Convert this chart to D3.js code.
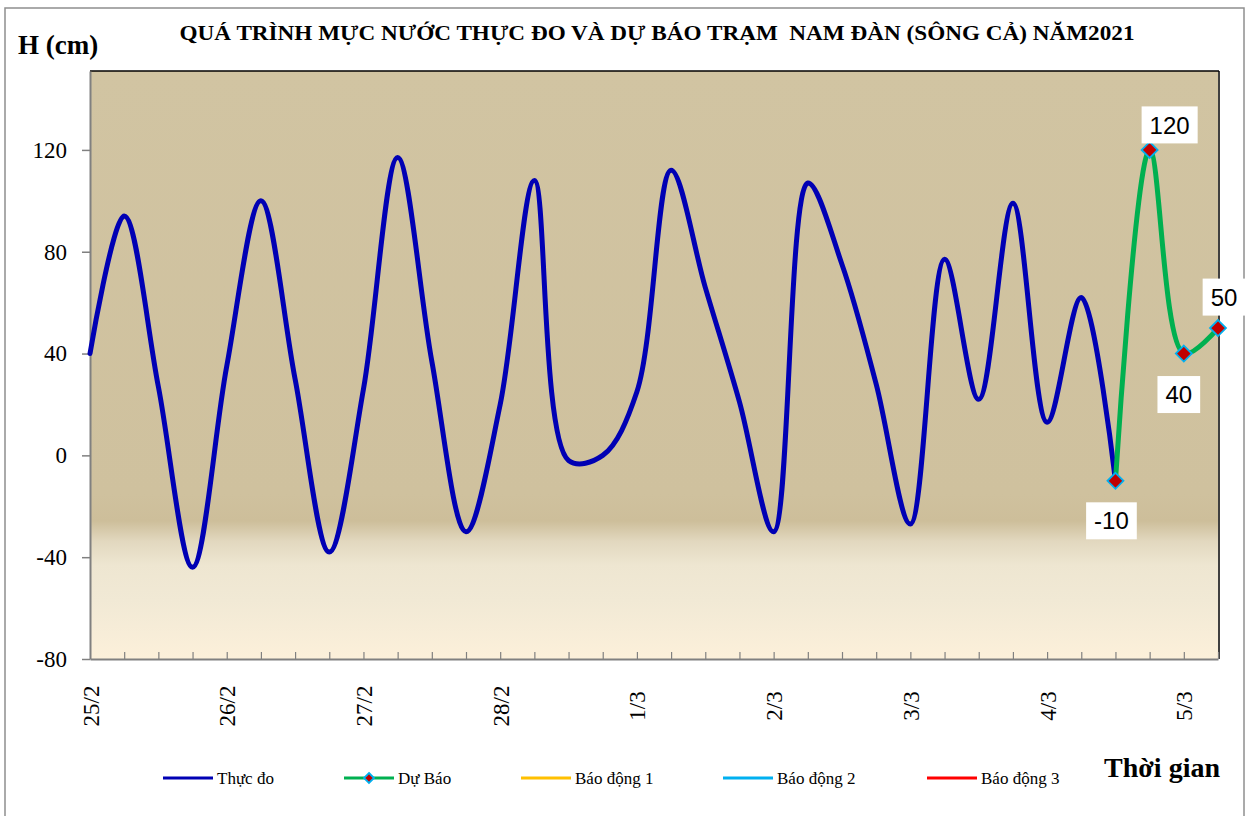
<!DOCTYPE html>
<html>
<head>
<meta charset="utf-8">
<script src="https://cdn.jsdelivr.net/npm/d3@7"></script>
<style>
  html, body { margin: 0; padding: 0; background: #ffffff; }
  svg { display: block; }
  .serif { font-family: "Liberation Serif", "Times New Roman", serif; }
</style>
</head>
<body>
<svg id="chart" width="1253" height="816"></svg>
<script>
// ---------------- DATA ----------------
const categories = [
  '25/2 00h','25/2 06h','25/2 12h','25/2 18h',
  '26/2 00h','26/2 06h','26/2 12h','26/2 18h',
  '27/2 00h','27/2 06h','27/2 12h','27/2 18h',
  '28/2 00h','28/2 06h','28/2 12h','28/2 18h',
  '1/3 00h','1/3 06h','1/3 12h','1/3 18h',
  '2/3 00h','2/3 06h','2/3 12h','2/3 18h',
  '3/3 00h','3/3 06h','3/3 12h','3/3 18h',
  '4/3 00h','4/3 06h','4/3 12h','4/3 18h',
  '5/3 00h','5/3 06h'
];
const dayLabels = ['25/2','26/2','27/2','28/2','1/3','2/3','3/3','4/3','5/3'];
const dayCategories = ['25/2 00h','26/2 00h','27/2 00h','28/2 00h','1/3 00h','2/3 00h','3/3 00h','4/3 00h','5/3 00h'];

// Thực đo (observed), 6-hourly
const thucDo = [40,94,27,-44,35,100,30,-38,26,117,37,-30,20,108,-2,0,25,112,66,21,-30,107,75,28,-27,77,22,99,13,62,-10];
// Dự báo (forecast)
const duBaoCategories = ['4/3 12h','4/3 18h','5/3 00h','5/3 06h'];
const duBao = [-10,120,40,50];

const yTicks = [-80,-40,0,40,80,120];
const yDomain = [-80,151];

const legendNames = ['Thực đo','Dự Báo','Báo động 1','Báo động 2','Báo động 3'];
const legendColors = ['#0000B4','#00B050','#FFC000','#00B0F0','#FF0000'];

const titleText = 'QUÁ TRÌNH MỰC NƯỚC THỰC ĐO VÀ DỰ BÁO TRẠM  NAM ĐÀN (SÔNG CẢ) NĂM2021';

// ---------------- LAYOUT ----------------
const SERIF = '"Liberation Serif", "Times New Roman", serif';
const SANS = '"Liberation Sans", Arial, sans-serif';
const svg = d3.select('#chart');
const plot = {left: 90, right: 1218, top: 71, bottom: 659};

// chart frame
svg.append('rect')
  .attr('x', 5).attr('y', 8).attr('width', 1239).attr('height', 820)
  .attr('fill', '#ffffff').attr('stroke', '#8f8f8f').attr('stroke-width', 1.5);

const defs = svg.append('defs');
const grad = defs.append('linearGradient')
  .attr('id', 'bgGrad')
  .attr('gradientUnits', 'userSpaceOnUse')
  .attr('x1', 0).attr('x2', 0).attr('y1', plot.top).attr('y2', plot.bottom);
[
  [0, '#D1C4A2'],
  [0.72, '#CFC19E'],
  [0.765, '#CDBE9A'],
  [0.80, '#E2D8BF'],
  [0.84, '#EEE6D1'],
  [0.90, '#F1E9D5'],
  [1, '#FCF0DA']
].forEach(([o, c]) => grad.append('stop').attr('offset', o).attr('stop-color', c));

svg.append('rect')
  .attr('x', plot.left).attr('y', plot.top)
  .attr('width', plot.right - plot.left).attr('height', plot.bottom - plot.top)
  .attr('fill', 'url(#bgGrad)');

// scales
const x = d3.scalePoint().domain(categories).range([plot.left, plot.right]).padding(0);
const y = d3.scaleLinear().domain(yDomain).range([plot.bottom, plot.top]);

// plot border (top & right black)
svg.append('line').attr('x1', plot.left).attr('x2', plot.right + 1)
  .attr('y1', plot.top).attr('y2', plot.top).attr('stroke', '#000').attr('stroke-width', 1.5);
svg.append('line').attr('x1', plot.right + 1).attr('x2', plot.right + 1)
  .attr('y1', plot.top).attr('y2', plot.bottom).attr('stroke', '#000').attr('stroke-width', 1.5);

// Y axis
const yAxis = svg.append('g')
  .attr('transform', `translate(${plot.left},0)`)
  .call(d3.axisLeft(y).tickValues(yTicks).tickSize(8).tickSizeOuter(0).tickPadding(15)
    .tickFormat(d => String(d)));
yAxis.attr('font-family', null).attr('font-size', null);
yAxis.select('.domain').attr('stroke', '#808080').attr('stroke-width', 2);
yAxis.selectAll('.tick line').attr('stroke', '#808080').attr('stroke-width', 1.5);
yAxis.selectAll('.tick text')
  .style('font-family', SERIF)
  .style('font-size', '23px').attr('fill', '#000');

// X axis (tick marks inside)
const xAxis = svg.append('g')
  .attr('transform', `translate(0,${plot.bottom})`)
  .call(d3.axisBottom(x).tickValues(categories.slice(1)).tickSize(-7).tickSizeOuter(0).tickFormat(''));
xAxis.select('.domain').attr('stroke', '#808080').attr('stroke-width', 2);
xAxis.selectAll('.tick line').attr('stroke', '#808080').attr('stroke-width', 1.2);

// X day labels (rotated)
const dayMap = new Map(dayCategories.map((c, i) => [c, dayLabels[i]]));
const xLab = svg.append('g')
  .attr('transform', `translate(0,${plot.bottom})`)
  .call(d3.axisBottom(x).tickValues(dayCategories).tickSize(0).tickFormat(d => dayMap.get(d)));
xLab.attr('font-family', null).attr('font-size', null);
xLab.select('.domain').remove();
xLab.selectAll('.tick text')
  .style('font-family', SERIF)
  .style('font-size', '23px').attr('fill', '#000')
  .attr('text-anchor', 'middle')
  .attr('transform', 'translate(0,47) rotate(-90)')
  .attr('x', 0).attr('y', 0).attr('dy', '0.35em');

// lines
const line = d3.line()
  .x(d => x(d.c)).y(d => y(d.v))
  .curve(d3.curveCatmullRom.alpha(0.5));

const obs = thucDo.map((v, i) => ({c: categories[i], v}));
const fc = duBao.map((v, i) => ({c: duBaoCategories[i], v}));

svg.append('path').datum(obs).attr('d', line)
  .attr('fill', 'none').attr('stroke', legendColors[0]).attr('stroke-width', 5)
  .attr('stroke-linejoin', 'round').attr('stroke-linecap', 'round');

svg.append('path').datum(fc).attr('d', line)
  .attr('fill', 'none').attr('stroke', legendColors[1]).attr('stroke-width', 5)
  .attr('stroke-linejoin', 'round').attr('stroke-linecap', 'round');

// markers
function drawDiamond(g, cx, cy, s) {
  g.append('path')
    .attr('d', `M${cx},${cy - s}L${cx + s},${cy}L${cx},${cy + s}L${cx - s},${cy}Z`)
    .attr('fill', '#C00000').attr('stroke', '#00B0F0').attr('stroke-width', 1.8);
}
const mk = svg.append('g');
fc.forEach(d => drawDiamond(mk, x(d.c), y(d.v), 8));

// data labels
const labelOffsets = [[-4, 40], [20, -25], [-5, 41], [6, -31]];
const lbl = svg.append('g');
fc.forEach((d, i) => {
  const cx = x(d.c) + labelOffsets[i][0];
  const cy = y(d.v) + labelOffsets[i][1];
  const g = lbl.append('g');
  const t = g.append('text')
    .attr('x', cx).attr('y', cy).attr('dy', '0.36em')
    .attr('text-anchor', 'middle')
    .style('font-family', SANS)
    .style('font-size', '24px').attr('fill', '#000')
    .text(String(d.v));
  const bb = t.node().getBBox();
  g.insert('rect', 'text')
    .attr('x', bb.x - 8).attr('y', cy - 18.5)
    .attr('width', bb.width + 16).attr('height', 37)
    .attr('fill', '#ffffff');
});

// title
svg.append('text')
  .attr('x', 657).attr('y', 40).attr('text-anchor', 'middle')
  .style('font-family', SERIF).style('white-space', 'pre')
  .attr('xml:space', 'preserve')
  .attr('font-weight', 'bold').style('font-size', '21px')
  .attr('textLength', 955).attr('lengthAdjust', 'spacingAndGlyphs')
  .text(titleText);

// axis titles
svg.append('text')
  .attr('x', 18).attr('y', 54)
  .style('font-family', SERIF)
  .attr('font-weight', 'bold').style('font-size', '27px')
  .text('H (cm)');

svg.append('text')
  .attr('x', 1220).attr('y', 777).attr('text-anchor', 'end')
  .style('font-family', SERIF)
  .attr('font-weight', 'bold').style('font-size', '28px')
  .text('Thời gian');

// legend
const legendX = [163, 344, 521, 723, 927];
const legendY = 778;
const leg = svg.append('g');
legendNames.forEach((name, i) => {
  const x0 = legendX[i];
  leg.append('line')
    .attr('x1', x0).attr('x2', x0 + 50)
    .attr('y1', legendY).attr('y2', legendY)
    .attr('stroke', legendColors[i]).attr('stroke-width', 3);
  if (i === 1) drawDiamond(leg, x0 + 25, legendY, 5);
  leg.append('text')
    .attr('x', x0 + 54).attr('y', legendY + 5.5)
    .style('font-family', SERIF)
    .style('font-size', '17px').attr('fill', '#000')
    .text(name);
});
</script>
</body>
</html>
